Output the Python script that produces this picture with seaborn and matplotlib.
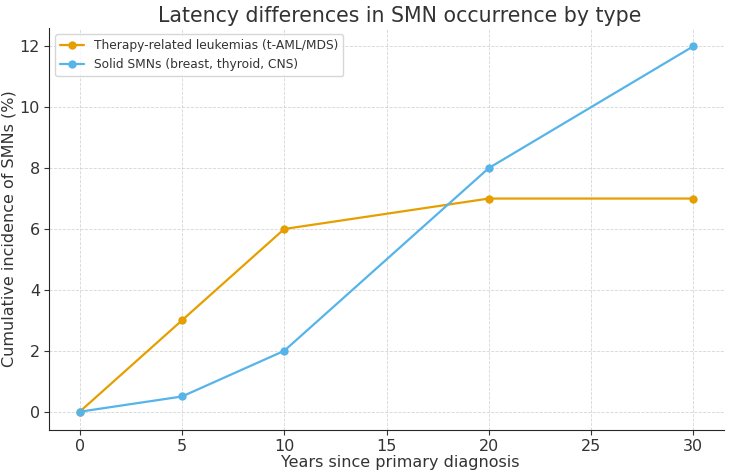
"""
Recreate: Latency differences in SMN occurrence by type.
"""
import pandas as pd
import seaborn as sns
import matplotlib.pyplot as plt

# Data
years = [0, 5, 10, 20, 30]
leukemia = [0, 3, 6, 7, 7]
solid = [0, 0.5, 2, 8, 12]
series_names = ['Therapy-related leukemias (t-AML/MDS)',
                'Solid SMNs (breast, thyroid, CNS)']
colors = ['#E69F00', '#56B4E9']


def main():
    df = pd.DataFrame({
        'Years': years * 2,
        'Incidence': leukemia + solid,
        'Type': [series_names[0]] * len(years) + [series_names[1]] * len(years),
    })

    sns.set_style('ticks')
    plt.rcParams['font.family'] = ['DejaVu Sans']
    plt.rcParams['text.color'] = '#333333'
    plt.rcParams['axes.labelcolor'] = '#333333'
    plt.rcParams['xtick.color'] = '#333333'
    plt.rcParams['ytick.color'] = '#333333'

    fig = plt.figure(figsize=(7.29, 4.73), dpi=100)
    ax = fig.add_axes([49 / 729, 1 - 430 / 473, (724 - 49) / 729, (430 - 28) / 473])

    sns.lineplot(data=df, x='Years', y='Incidence', hue='Type',
                 palette=colors, marker='o', markersize=6,
                 markeredgewidth=0, linewidth=1.6, ax=ax)

    ax.set_xlim(-1.5, 31.5)
    ax.set_ylim(-0.6, 12.6)
    ax.set_xticks([0, 5, 10, 15, 20, 25, 30])
    ax.set_yticks([0, 2, 4, 6, 8, 10, 12])
    ax.grid(True, linestyle='--', linewidth=0.6, color='#cccccc', alpha=0.8)
    ax.tick_params(labelsize=11.5, length=3.5, pad=3)
    sns.despine(ax=ax)

    # title and x label sit a bit right of the axes centre in the reference
    ax.set_title('Latency differences in SMN occurrence by type',
                 fontsize=14.8, pad=4, x=0.52)
    ax.set_xlabel('Years since primary diagnosis', fontsize=11.5, labelpad=1)
    ax.xaxis.label.set_x(0.52)
    ax.set_ylabel('Cumulative incidence of SMNs (%)', fontsize=11.5, labelpad=2)
    ax.legend(title=None, loc='upper left', fontsize=8.8, frameon=True)

    fig.savefig('out.png', dpi=100)
    plt.close(fig)


if __name__ == '__main__':
    main()
